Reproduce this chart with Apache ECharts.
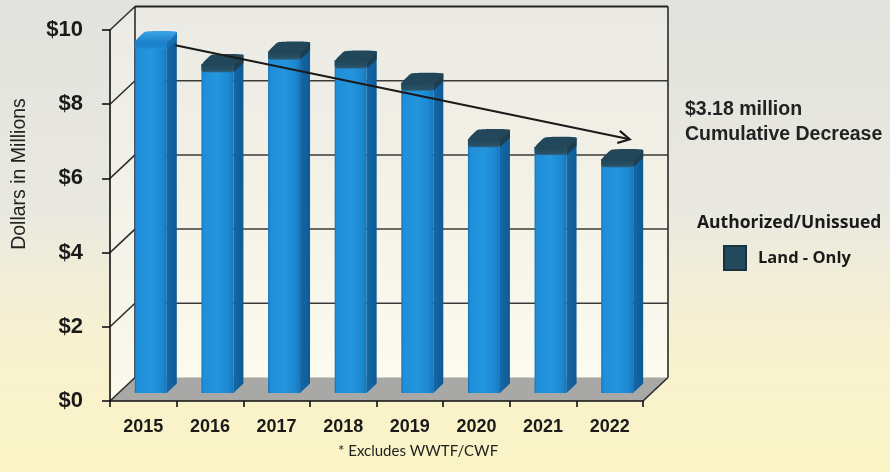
<!DOCTYPE html>
<html>
<head>
<meta charset="utf-8">
<script src="https://cdn.jsdelivr.net/npm/echarts@6/dist/echarts.min.js"></script>
<style>
  html, body { margin: 0; padding: 0; }
  #chart { width: 890px; height: 472px; }
</style>
</head>
<body>
<div id="chart"></div>
<script>
// ---- data ----
const years = ['2015', '2016', '2017', '2018', '2019', '2020', '2021', '2022'];
const landOnly = [9.48, 8.86, 9.20, 8.96, 8.36, 6.84, 6.63, 6.30];
const yTicks = [0, 2, 4, 6, 8, 10];
const seriesName = 'Land - Only';
const legendTitle = 'Authorized/Unissued';
const footnote = '* Excludes WWTF/CWF';
const yAxisTitle = 'Dollars in Millions';

// ---- oblique 3D look: offset from the front plane to the back wall, in px ----
const DEPTH_X = 25, DEPTH_Y = -23.5;
const BAR_FRONT = 0.34, BAR_BACK = 0.74, BAR_WIDTH = 0.48;

const decrease = (landOnly[0] - landOnly[landOnly.length - 1]).toFixed(2);

const chart = echarts.init(document.getElementById('chart'));

function plotBox(api) {
  const n = years.length;
  const bw = api.size([1, 0])[0];
  const p0 = api.coord([0, yTicks[0]]);
  const p1 = api.coord([n - 1, yTicks[yTicks.length - 1]]);
  return { xl: p0[0] - bw / 2, xr: p1[0] + bw / 2, yb: p0[1], yt: p1[1] };
}

// back wall, left wall and floor
function renderWalls(params, api) {
  const b = plotBox(api);
  const dx = DEPTH_X, dy = DEPTH_Y;
  const edge = { stroke: '#2b2b2b', lineWidth: 1.6 };
  return {
    type: 'group',
    children: [
      { type: 'polygon', shape: { points: [[b.xl, b.yb], [b.xl, b.yt], [b.xl + dx, b.yt + dy], [b.xl + dx, b.yb + dy]] },
        style: { fill: new echarts.graphic.LinearGradient(0, 0, 0, 1, [{ offset: 0, color: '#ebeae5' }, { offset: 1, color: '#fbf9ec' }]) } },
      { type: 'rect', shape: { x: b.xl + dx, y: b.yt + dy, width: b.xr - b.xl, height: b.yb - b.yt },
        style: { fill: new echarts.graphic.LinearGradient(0, 0, 0, 1, [{ offset: 0, color: '#eae9e4' }, { offset: 0.5, color: '#f4f2e6' }, { offset: 1, color: '#fdfbef' }]) } },
      { type: 'polygon', shape: { points: [[b.xl, b.yb], [b.xr, b.yb], [b.xr + dx, b.yb + dy], [b.xl + dx, b.yb + dy]] },
        style: { fill: '#a8a8a6' } },
      { type: 'line', shape: { x1: b.xl + dx, y1: b.yt + dy, x2: b.xl + dx, y2: b.yb + dy }, style: edge },
      { type: 'line', shape: { x1: b.xr + dx, y1: b.yt + dy, x2: b.xr + dx, y2: b.yb + dy }, style: edge },
      { type: 'line', shape: { x1: b.xr, y1: b.yb, x2: b.xr + dx, y2: b.yb + dy }, style: edge },
      { type: 'line', shape: { x1: b.xl + dx, y1: b.yt + dy, x2: b.xr + dx, y2: b.yt + dy }, style: { stroke: '#222', lineWidth: 2 } }
    ]
  };
}

// gridlines on the back wall and the matching diagonals on the left wall
function renderGrid(params, api) {
  const v = api.value(0);
  const b = plotBox(api);
  const y = api.coord([0, v])[1];
  const children = [
    { type: 'line', shape: { x1: b.xl, y1: y, x2: b.xl + DEPTH_X, y2: y + DEPTH_Y }, style: { stroke: '#2b2b2b', lineWidth: 1.5 } }
  ];
  if (v > yTicks[0] && v < yTicks[yTicks.length - 1]) {
    children.push({ type: 'line', shape: { x1: b.xl + DEPTH_X, y1: y + DEPTH_Y, x2: b.xr + DEPTH_X, y2: y + DEPTH_Y },
      style: { stroke: '#3a3a3a', lineWidth: 1.5 } });
  }
  return { type: 'group', children: children };
}

// 3D-looking column with bevelled cap
function renderBar(params, api) {
  const i = api.value(0), v = api.value(1);
  const bw = api.size([1, 0])[0];
  const base = api.coord([i, 0]), top = api.coord([i, v]);
  const w = bw * BAR_WIDTH;
  const ox = DEPTH_X * BAR_FRONT, oy = DEPTH_Y * BAR_FRONT;
  const ddx = DEPTH_X * (BAR_BACK - BAR_FRONT), ddy = DEPTH_Y * (BAR_BACK - BAR_FRONT);
  const xb = base[0] + ox - w / 2 - 1, xe = xb + w;
  const y0 = base[1] + oy, y1 = top[1] + oy;
  const first = i === 0;
  const capColor = first ? '#1b7fc6' : '#23475a';
  const bevel = 8;
  return {
    type: 'group',
    children: [
      { type: 'rect', shape: { x: xb, y: y1, width: w, height: y0 - y1 },
        style: { fill: new echarts.graphic.LinearGradient(0, 0, 1, 0, [
          { offset: 0, color: '#1670b4' }, { offset: 0.06, color: '#1e8ed8' }, { offset: 0.5, color: '#2396de' },
          { offset: 0.85, color: '#1d88d1' }, { offset: 1, color: '#1676bd' }]) } },
      { type: 'polygon', shape: { points: [[xe, y0], [xe, y1], [xe + ddx, y1 + ddy], [xe + ddx, y0 + ddy]] },
        style: { fill: new echarts.graphic.LinearGradient(0, 0, 1, 0, [{ offset: 0, color: '#1468a8' }, { offset: 1, color: '#0f5a94' }]) } },
      { type: 'rect', shape: { x: xb, y: y1, width: w, height: bevel, r: [0, 0, 3, 3] },
        style: { fill: new echarts.graphic.LinearGradient(0, 0, 0, 1, [
          { offset: 0, color: capColor }, { offset: 0.7, color: first ? '#1c86cf' : '#264f64' }, { offset: 1, color: first ? '#2190d8' : '#2d6280' }]) } },
      { type: 'polygon', shape: { points: [[xe, y1], [xe + ddx, y1 + ddy], [xe + ddx, y1 + ddy + bevel], [xe, y1 + bevel]] },
        style: { fill: first ? '#176fb0' : '#1c3e4f' } },
      { type: 'polygon', shape: { points: [[xb, y1 + 1], [xe, y1 + 1], [xe + ddx, y1 + ddy], [xb + ddx, y1 + ddy]], smooth: 0.15 },
        style: { fill: first ? new echarts.graphic.LinearGradient(0, 0, 0, 1, [{ offset: 0, color: '#3aa4e6' }, { offset: 1, color: '#1b80c8' }]) : capColor } }
    ]
  };
}

// trend arrow from the first year's column to the last one
function renderArrow(params, api) {
  const p = api.coord([api.value(0), api.value(1)]);
  const q = api.coord([api.value(2), api.value(3)]);
  const x1 = p[0] + 32, y1 = p[1] - 4;
  const x2 = q[0] + 20, y2 = q[1] - 28;
  const ang = Math.atan2(y2 - y1, x2 - x1);
  const L = 13, spread = 0.5;
  const h1 = [x2 - L * Math.cos(ang - spread), y2 - L * Math.sin(ang - spread)];
  const h2 = [x2 - L * Math.cos(ang + spread), y2 - L * Math.sin(ang + spread)];
  const st = { stroke: '#1a1a1a', lineWidth: 2.2, fill: null };
  return {
    type: 'group',
    children: [
      { type: 'line', shape: { x1: x1, y1: y1, x2: x2, y2: y2 }, style: st },
      { type: 'polyline', shape: { points: [h1, [x2, y2], h2] }, style: st }
    ]
  };
}

const n = years.length;

chart.setOption({
  animation: false,
  backgroundColor: new echarts.graphic.LinearGradient(0, 0, 0, 1, [
    { offset: 0, color: '#e2e2de' }, { offset: 0.45, color: '#eae9e0' },
    { offset: 0.72, color: '#f7f1d0' }, { offset: 1, color: '#fbf4c6' }]),
  grid: { left: 110, right: 247, top: 30, bottom: 71, containLabel: false },
  title: [
    { text: '$' + decrease + ' million\nCumulative Decrease', left: 685, top: 97, padding: 0,
      textStyle: { fontFamily: 'Liberation Sans', fontWeight: 'bold', fontSize: 19.5, lineHeight: 25, color: '#222' } },
    { text: legendTitle, left: 697, top: 214, padding: 0,
      textStyle: { fontFamily: 'Open Sans', fontWeight: 'bold', fontSize: 17.5, color: '#1a1a1a' } },
    { text: footnote, left: 338, top: 444, padding: 0,
      textStyle: { fontFamily: 'Lato', fontWeight: 'normal', fontSize: 15, color: '#222' } }
  ],
  legend: {
    data: [seriesName], left: 723, top: 245, padding: 0,
    itemWidth: 22, itemHeight: 24, icon: 'rect', selectedMode: false,
    textStyle: { fontFamily: 'Open Sans', fontWeight: 'bold', fontSize: 16.5, color: '#1a1a1a', padding: [0, 0, 0, 7] }
  },
  graphic: [
    { type: 'text', x: 20, y: 174, rotation: Math.PI / 2,
      style: { text: yAxisTitle, fontFamily: 'Liberation Sans', fontSize: 19.5, fill: '#222', align: 'center', verticalAlign: 'middle' } }
  ],
  xAxis: {
    type: 'category', data: years, z: 6,
    axisLine: { lineStyle: { color: '#111', width: 1.6 } },
    axisTick: { show: true, length: 6, lineStyle: { color: '#111', width: 1.6 } },
    axisLabel: { margin: 17, fontFamily: 'Liberation Sans', fontWeight: 'bold', fontSize: 18, color: '#1a1a1a' },
    splitLine: { show: false }
  },
  yAxis: {
    type: 'value', min: 0, max: 10, interval: 2, z: 6,
    axisLine: { show: true, lineStyle: { color: '#111', width: 1.6 } },
    axisTick: { show: true, length: 8, lineStyle: { color: '#111', width: 1.6 } },
    axisLabel: { margin: 27, formatter: v => '$' + v, fontFamily: 'Liberation Sans', fontWeight: 'bold', fontSize: 22, color: '#1a1a1a' },
    splitLine: { show: false }
  },
  series: [
    { type: 'custom', name: 'walls', z: 1, silent: true, renderItem: renderWalls, data: [[0]] },
    { type: 'custom', name: 'grid', z: 2, silent: true, renderItem: renderGrid, data: yTicks.map(v => [v]) },
    { type: 'custom', name: seriesName, z: 3, renderItem: renderBar,
      itemStyle: { color: '#24495c', borderColor: '#16323f', borderWidth: 1 },
      encode: { x: 0, y: 1 }, data: landOnly.map((v, i) => [i, v]) },
    { type: 'custom', name: 'trend', z: 4, silent: true, renderItem: renderArrow,
      data: [[0, landOnly[0], n - 1, landOnly[n - 1]]] }
  ]
});
</script>
</body>
</html>
